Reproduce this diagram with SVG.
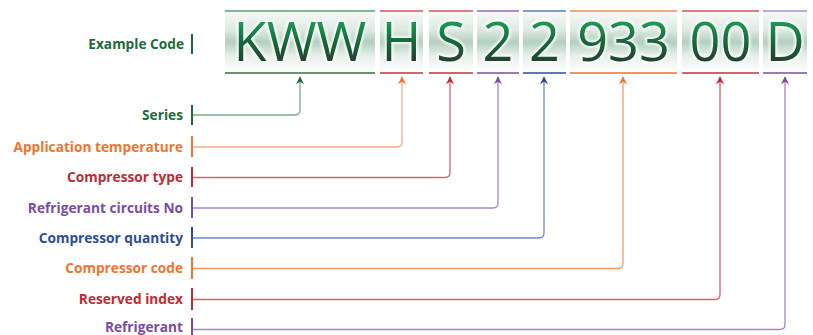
<svg xmlns="http://www.w3.org/2000/svg" width="813" height="335" viewBox="0 0 813 335">
<style>
.lbl{font-family:"Open Sans","DejaVu Sans",sans-serif;font-weight:bold;font-size:13.7px;text-anchor:end}
.code{font-family:"Open Sans","DejaVu Sans",sans-serif;font-size:54px;text-anchor:middle;fill:url(#tg)}
.halo{font-family:"Open Sans","DejaVu Sans",sans-serif;font-size:54px;text-anchor:middle;fill:none;stroke:#ffffff;stroke-width:4;opacity:0.85}
.box{fill:url(#bg)}
.conn{fill:none;stroke-width:1.3}
.bar{stroke-width:2}
.seg{stroke-width:1.6}
</style>
<defs>
<linearGradient id="bg" x1="0" y1="12" x2="0" y2="72" gradientUnits="userSpaceOnUse">
<stop offset="0" stop-color="#f5f9f6"/>
<stop offset="0.3" stop-color="#dde9e2"/>
<stop offset="0.5" stop-color="#b3cfbe"/>
<stop offset="0.72" stop-color="#e4eee8"/>
<stop offset="1" stop-color="#ffffff"/>
</linearGradient>
<linearGradient id="tg" x1="0" y1="22" x2="0" y2="61" gradientUnits="userSpaceOnUse">
<stop offset="0" stop-color="#1a9a52"/>
<stop offset="0.5" stop-color="#17683a"/>
<stop offset="1" stop-color="#22432f"/>
</linearGradient>
<filter id="glow" x="-10%" y="-10%" width="120%" height="120%">
<feGaussianBlur stdDeviation="1.2"/>
</filter>
<marker id="aG" viewBox="0 0 10 10" refX="9" refY="5" markerWidth="10" markerHeight="8" markerUnits="userSpaceOnUse" orient="auto"><path d="M0,0 L10,5 L0,10 L3,5 z" fill="#1d6b3b"/></marker>
<marker id="aO" viewBox="0 0 10 10" refX="9" refY="5" markerWidth="10" markerHeight="8" markerUnits="userSpaceOnUse" orient="auto"><path d="M0,0 L10,5 L0,10 L3,5 z" fill="#f07431"/></marker>
<marker id="aR" viewBox="0 0 10 10" refX="9" refY="5" markerWidth="10" markerHeight="8" markerUnits="userSpaceOnUse" orient="auto"><path d="M0,0 L10,5 L0,10 L3,5 z" fill="#c12a33"/></marker>
<marker id="aP" viewBox="0 0 10 10" refX="9" refY="5" markerWidth="10" markerHeight="8" markerUnits="userSpaceOnUse" orient="auto"><path d="M0,0 L10,5 L0,10 L3,5 z" fill="#7a4ca3"/></marker>
<marker id="aB" viewBox="0 0 10 10" refX="9" refY="5" markerWidth="10" markerHeight="8" markerUnits="userSpaceOnUse" orient="auto"><path d="M0,0 L10,5 L0,10 L3,5 z" fill="#2d4c9c"/></marker>
</defs>

<g id="example-code">
<text class="lbl" x="184" y="49" fill="#1d6b3b">Example Code</text>
<line class="bar" x1="192" y1="34" x2="192" y2="54" stroke="#1d6b3b"/>
</g>

<g id="seg-kww">
<rect class="box" x="225" y="12" width="150" height="60"/>
<line class="seg" x1="225" y1="11" x2="375" y2="11" stroke="#5f9c74"/>
<line class="seg" x1="225" y1="73" x2="375" y2="73" stroke="#2a7346"/>
<text class="halo" x="300" y="61" filter="url(#glow)">KWW</text>
<text class="code" x="300" y="61">KWW</text>
</g>
<g id="seg-h">
<rect class="box" x="380" y="12" width="43" height="60"/>
<line class="seg" x1="380" y1="11" x2="423" y2="11" stroke="#c9575d"/>
<line class="seg" x1="380" y1="73" x2="423" y2="73" stroke="#c0333b"/>
<text class="halo" x="401.5" y="61" filter="url(#glow)">H</text>
<text class="code" x="401.5" y="61">H</text>
</g>
<g id="seg-s">
<rect class="box" x="429" y="12" width="44" height="60"/>
<line class="seg" x1="429" y1="11" x2="473" y2="11" stroke="#c9575d"/>
<line class="seg" x1="429" y1="73" x2="473" y2="73" stroke="#c0333b"/>
<text class="halo" x="451" y="61" filter="url(#glow)">S</text>
<text class="code" x="451" y="61">S</text>
</g>
<g id="seg-2a">
<rect class="box" x="477" y="12" width="42" height="60"/>
<line class="seg" x1="477" y1="11" x2="519" y2="11" stroke="#8d6bb4"/>
<line class="seg" x1="477" y1="73" x2="519" y2="73" stroke="#7a4ca3"/>
<text class="halo" x="498" y="61" filter="url(#glow)">2</text>
<text class="code" x="498" y="61">2</text>
</g>
<g id="seg-2b">
<rect class="box" x="523" y="12" width="43" height="60"/>
<line class="seg" x1="523" y1="11" x2="566" y2="11" stroke="#5f78bb"/>
<line class="seg" x1="523" y1="73" x2="566" y2="73" stroke="#2d4c9c"/>
<text class="halo" x="544.5" y="61" filter="url(#glow)">2</text>
<text class="code" x="544.5" y="61">2</text>
</g>
<g id="seg-933">
<rect class="box" x="570" y="12" width="107" height="60"/>
<line class="seg" x1="570" y1="11" x2="677" y2="11" stroke="#ef8e58"/>
<line class="seg" x1="570" y1="73" x2="677" y2="73" stroke="#ea7131"/>
<text class="halo" x="623.5" y="61" filter="url(#glow)">933</text>
<text class="code" x="623.5" y="61">933</text>
</g>
<g id="seg-00">
<rect class="box" x="682" y="12" width="77" height="60"/>
<line class="seg" x1="682" y1="11" x2="759" y2="11" stroke="#c9575d"/>
<line class="seg" x1="682" y1="73" x2="759" y2="73" stroke="#c0333b"/>
<text class="halo" x="720.5" y="61" filter="url(#glow)">00</text>
<text class="code" x="720.5" y="61">00</text>
</g>
<g id="seg-d">
<rect class="box" x="763" y="12" width="44" height="60"/>
<line class="seg" x1="763" y1="11" x2="807" y2="11" stroke="#a88dc8"/>
<line class="seg" x1="763" y1="73" x2="807" y2="73" stroke="#7a4ca3"/>
<text class="halo" x="785" y="61" filter="url(#glow)">D</text>
<text class="code" x="785" y="61">D</text>
</g>

<g id="label-series">
<text class="lbl" x="183" y="120" fill="#1d6b3b">Series</text>
<line class="bar" x1="192" y1="105" x2="192" y2="125" stroke="#1d6b3b"/>
</g>
<g id="label-apptemp">
<text class="lbl" x="183" y="152" fill="#f07431">Application temperature</text>
<line class="bar" x1="192" y1="136" x2="192" y2="157" stroke="#f07431"/>
</g>
<g id="label-comptype">
<text class="lbl" x="183" y="182" fill="#c12a33">Compressor type</text>
<line class="bar" x1="192" y1="167" x2="192" y2="187" stroke="#c12a33"/>
</g>
<g id="label-circuits">
<text class="lbl" x="183" y="213" fill="#7a4ca3">Refrigerant circuits No</text>
<line class="bar" x1="192" y1="197" x2="192" y2="218" stroke="#7a4ca3"/>
</g>
<g id="label-compqty">
<text class="lbl" x="183" y="243" fill="#2d4c9c">Compressor quantity</text>
<line class="bar" x1="192" y1="227" x2="192" y2="248" stroke="#2d4c9c"/>
</g>
<g id="label-compcode">
<text class="lbl" x="183" y="273" fill="#f07431">Compressor code</text>
<line class="bar" x1="192" y1="257" x2="192" y2="279" stroke="#f07431"/>
</g>
<g id="label-reserved">
<text class="lbl" x="183" y="304" fill="#c12a33">Reserved index</text>
<line class="bar" x1="192" y1="288" x2="192" y2="310" stroke="#c12a33"/>
</g>
<g id="label-refrigerant">
<text class="lbl" x="183" y="332" fill="#7a4ca3">Refrigerant</text>
<line class="bar" x1="192" y1="318" x2="192" y2="335" stroke="#7a4ca3"/>
</g>

<g id="connectors">
<path class="conn" d="M193,115 H295 Q300,115 300,110 V77" stroke="#7aab8b" marker-end="url(#aG)"/>
<path class="conn" d="M193,147 H397 Q402,147 402,142 V77" stroke="#f6ac84" marker-end="url(#aO)"/>
<path class="conn" d="M193,177.5 H445 Q450,177.5 450,172.5 V77" stroke="#d5666d" marker-end="url(#aR)"/>
<path class="conn" d="M193,208 H493 Q498,208 498,203 V77" stroke="#a888c6" marker-end="url(#aP)"/>
<path class="conn" d="M193,238 H539 Q544,238 544,233 V77" stroke="#7188c6" marker-end="url(#aB)"/>
<path class="conn" d="M193,268.5 H618 Q623,268.5 623,263.5 V77" stroke="#f29b63" marker-end="url(#aO)"/>
<path class="conn" d="M193,299.5 H715 Q720,299.5 720,294.5 V77" stroke="#d5626a" marker-end="url(#aR)"/>
<path class="conn" d="M193,329.5 H780 Q785,329.5 785,324.5 V77" stroke="#a387c4" marker-end="url(#aP)"/>
</g>
</svg>
